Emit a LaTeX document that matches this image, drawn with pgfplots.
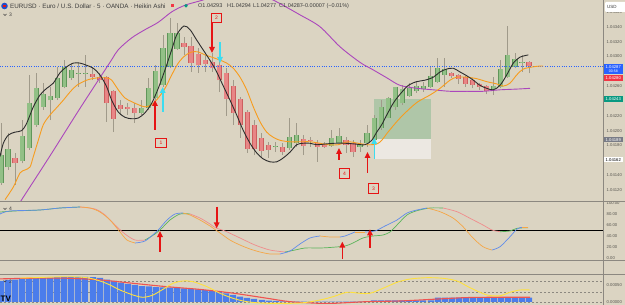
\documentclass[border=0pt]{standalone}
\usepackage{fontspec}
\setmainfont{Liberation Sans}
\usepackage{pgfplots}
\usepackage{pgfplotstable}
\pgfplotsset{compat=1.18}
\usetikzlibrary{arrows.meta}

\definecolor{bg}{RGB}{219,212,194}
\definecolor{sep}{RGB}{140,136,128}
\definecolor{tickc}{RGB}{90,88,82}
\definecolor{gfill}{RGB}{146,192,134}
\definecolor{gedge}{RGB}{96,150,90}
\definecolor{rfill}{RGB}{232,134,134}
\definecolor{redge}{RGB}{205,95,95}
\definecolor{wick}{RGB}{160,154,138}
\definecolor{maBlack}{RGB}{45,45,45}
\definecolor{maOrange}{RGB}{247,156,30}
\definecolor{maPurple}{RGB}{171,71,188}
\definecolor{dotBlue}{RGB}{41,98,255}
\definecolor{oscBlue}{RGB}{95,140,235}
\definecolor{oscOrange}{RGB}{245,166,70}
\definecolor{oscGreen}{RGB}{90,180,90}
\definecolor{oscPink}{RGB}{240,140,140}
\definecolor{histBlue}{RGB}{75,125,235}
\definecolor{histRed}{RGB}{239,83,80}
\definecolor{histYellow}{RGB}{255,225,60}
\definecolor{arrRed}{RGB}{230,20,20}
\definecolor{arrCyan}{RGB}{60,220,240}
\definecolor{posGreen}{RGB}{175,198,168}
\definecolor{posWhite}{RGB}{236,232,226}
\definecolor{lblBlue}{RGB}{41,98,255}
\definecolor{lblRed}{RGB}{242,54,69}
\definecolor{lblGreen}{RGB}{8,153,129}
\definecolor{lblGray}{RGB}{120,123,134}
\definecolor{txt}{RGB}{60,60,60}

\newcommand{\tickfont}{\fontsize{4.2}{5}\selectfont}

\pgfplotstableread{
i o h l c
0 1.04129 1.04210 1.04127 1.04167
1 1.04151 1.04197 1.04147 1.04175
2 1.04163 1.04170 1.04127 1.04156
3 1.04159 1.04214 1.04156 1.04193
4 1.04177 1.04275 1.04174 1.04237
5 1.04208 1.04278 1.04205 1.04257
6 1.04232 1.04264 1.04228 1.04249
7 1.04241 1.04259 1.04214 1.04247
8 1.04244 1.04286 1.04241 1.04271
9 1.04259 1.04295 1.04257 1.04286
10 1.04271 1.04291 1.04268 1.04282
11 1.04277 1.04292 1.04259 1.04278
12 1.04277 1.04302 1.04259 1.04278
13 1.04276 1.04286 1.04268 1.04272
14 1.04272 1.04278 1.04264 1.04268
15 1.04272 1.04274 1.04212 1.04237
16 1.04253 1.04255 1.04198 1.04216
17 1.04235 1.04241 1.04221 1.04229
18 1.04232 1.04237 1.04221 1.04229
19 1.04231 1.04237 1.04210 1.04224
20 1.04224 1.04241 1.04221 1.04231
21 1.04231 1.04271 1.04228 1.04257
22 1.04244 1.04288 1.04241 1.04280
23 1.04262 1.04329 1.04259 1.04311
24 1.04286 1.04352 1.04284 1.04332
25 1.04310 1.04345 1.04309 1.04332
26 1.04318 1.04326 1.04302 1.04313
27 1.04314 1.04326 1.04279 1.04291
28 1.04303 1.04311 1.04278 1.04288
29 1.04295 1.04302 1.04279 1.04290
30 1.04292 1.04305 1.04279 1.04284
31 1.04288 1.04295 1.04252 1.04268
32 1.04278 1.04284 1.04220 1.04243
33 1.04260 1.04268 1.04208 1.04224
34 1.04243 1.04245 1.04190 1.04208
35 1.04225 1.04228 1.04170 1.04175
36 1.04208 1.04214 1.04167 1.04175
37 1.04190 1.04197 1.04163 1.04173
38 1.04181 1.04185 1.04163 1.04174
39 1.04178 1.04185 1.04171 1.04179
40 1.04178 1.04183 1.04167 1.04171
41 1.04177 1.04217 1.04174 1.04191
42 1.04183 1.04210 1.04178 1.04194
43 1.04189 1.04194 1.04167 1.04179
44 1.04188 1.04191 1.04178 1.04187
45 1.04183 1.04187 1.04158 1.04178
46 1.04182 1.04185 1.04177 1.04178
47 1.04179 1.04201 1.04178 1.04190
48 1.04183 1.04204 1.04183 1.04193
49 1.04187 1.04191 1.04170 1.04181
50 1.04183 1.04187 1.04165 1.04171
51 1.04178 1.04187 1.04171 1.04182
52 1.04183 1.04208 1.04178 1.04197
53 1.04187 1.04221 1.04185 1.04217
54 1.04204 1.04241 1.04201 1.04232
55 1.04217 1.04245 1.04217 1.04244
56 1.04232 1.04259 1.04228 1.04259
57 1.04237 1.04262 1.04235 1.04256
58 1.04247 1.04264 1.04245 1.04257
59 1.04253 1.04266 1.04251 1.04260
60 1.04256 1.04266 1.04252 1.04260
61 1.04259 1.04286 1.04257 1.04274
62 1.04266 1.04298 1.04264 1.04284
63 1.04275 1.04298 1.04259 1.04283
64 1.04278 1.04279 1.04271 1.04274
65 1.04275 1.04276 1.04263 1.04270
66 1.04272 1.04274 1.04259 1.04263
67 1.04268 1.04271 1.04257 1.04262
68 1.04263 1.04264 1.04255 1.04259
69 1.04260 1.04262 1.04249 1.04253
70 1.04256 1.04272 1.04248 1.04260
71 1.04259 1.04295 1.04257 1.04283
72 1.04272 1.04341 1.04271 1.04302
73 1.04286 1.04305 1.04284 1.04297
74 1.04291 1.04302 1.04279 1.04292
75 1.04293 1.04294 1.04277 1.04287
}\candles

\pgfplotstableread{
x v
1 0.00062
8 0.00065
15 0.00066
22 0.00068
29 0.00069
36 0.00071
43 0.00071
50 0.00072
57 0.00073
64 0.00074
71 0.00074
78 0.00074
85 0.00074
93 0.00073
100 0.00071
107 0.00066
114 0.00062
121 0.00057
128 0.00053
135 0.00050
142 0.00047
149 0.00046
156 0.00044
163 0.00043
170 0.00042
177 0.00041
184 0.00040
191 0.00038
198 0.00037
205 0.00035
212 0.00032
219 0.00029
226 0.00025
233 0.00021
240 0.00016
247 0.00012
254 0.00009
262 0.00006
269 0.00004
276 0.00003
283 0.00002
290 0.00001
297 0.00001
304 0.00001
311 0.00001
318 0.00001
325 0.00001
332 0.00001
339 0.00001
346 0.00001
353 0.00001
360 0.00001
367 0.00001
374 0.000045
381 0.000045
388 0.000045
395 0.000045
402 0.000045
409 0.000045
416 0.000045
423 0.000045
431 0.000045
438 0.00013
445 0.00013
452 0.00013
459 0.00013
466 0.00013
473 0.00013
480 0.00013
487 0.00013
494 0.00013
501 0.00013
508 0.00013
515 0.00013
522 0.00013
529 0.00013
}\hist

\begin{document}
\begin{tikzpicture}[x=1pt,y=1pt]
\fill[bg] (0,0) rectangle (625,-305);
\useasboundingbox (0,0) rectangle (625,-305);

% ================= MAIN PRICE PANEL =================
\begin{axis}[at={(0pt,0pt)}, anchor=north west, scale only axis,
  width=603pt, height=201pt,
  xmin=-0.142, xmax=85.51, ymin=1.041052, ymax=1.04376,
  axis line style={draw=none}, xtick=\empty,
  ytick={1.0412,1.0414,1.0418,1.0420,1.0422,1.0426,1.0430,1.0432,1.0434,1.0436},
  yticklabels={1.04120,1.04140,1.04180,1.04200,1.04220,1.04260,1.04300,1.04320,1.04340,1.04360},
  yticklabel pos=right, major tick length=0pt, scaled y ticks=false,
  yticklabel style={font=\tickfont, text=tickc, anchor=west, xshift=3.5pt, inner sep=0pt},
  clip=true,
  candle/.style={forget plot, draw=none, no markers}]
  % position tool
  \fill[posGreen] (axis cs:53.03,1.04243) rectangle (axis cs:61.08,1.04189);
  \fill[posWhite] (axis cs:53.03,1.04189) rectangle (axis cs:61.08,1.04162);
  % wicks
  \addplot[candle,
    error bars/.cd, y dir=plus, y explicit, error mark=none,
    error bar style={draw=wick, line width=0.8pt}]
    table[x=i, y=l, y error expr=\thisrow{h}-\thisrow{l}] {\candles};
  % green bodies
  \addplot[candle,
    restrict expr to domain={\thisrow{c}-\thisrow{o}}{0:1},
    error bars/.cd, y dir=plus, y explicit, error mark=none,
    error bar style={draw=gedge, line width=5.2pt}]
    table[x=i, y=o, y error expr=\thisrow{c}-\thisrow{o}] {\candles};
  \addplot[candle,
    restrict expr to domain={\thisrow{c}-\thisrow{o}}{0:1},
    error bars/.cd, y dir=plus, y explicit, error mark=none,
    error bar style={draw=gfill, line width=3.6pt}]
    table[x=i, y=o, y error expr=\thisrow{c}-\thisrow{o}] {\candles};
  % red bodies
  \addplot[candle,
    restrict expr to domain={\thisrow{c}-\thisrow{o}}{-1:-0.000001},
    error bars/.cd, y dir=plus, y explicit, error mark=none,
    error bar style={draw=redge, line width=5.2pt}]
    table[x=i, y=c, y error expr=\thisrow{o}-\thisrow{c}] {\candles};
  \addplot[candle,
    restrict expr to domain={\thisrow{c}-\thisrow{o}}{-1:-0.000001},
    error bars/.cd, y dir=plus, y explicit, error mark=none,
    error bar style={draw=rfill, line width=3.6pt}]
    table[x=i, y=c, y error expr=\thisrow{o}-\thisrow{c}] {\candles};
  % current price dotted line
  \addplot[forget plot, dotBlue, line width=0.6pt, dash pattern=on 0.8pt off 1.6pt]
    coordinates {(-0.142,1.04287) (85.51,1.04287)};
  % purple slow MA
  \addplot[forget plot, maPurple, line width=0.9pt, smooth] coordinates {
   (2.0,1.04093) (2.94,1.04107) (6.96,1.04166) (11.22,1.04230) (15.48,1.04292)
   (16.66,1.04309) (18.57,1.04325) (20.45,1.04336) (22.34,1.04346) (24.25,1.04360)
   (26.14,1.04369) (28.69,1.04376) (31.11,1.04384) (33.95,1.04388) (36.08,1.04385)
   (38.64,1.04376) (42.47,1.04356) (45.31,1.04340) (48.15,1.04313) (50.99,1.04292)
   (52.84,1.04282) (54.83,1.04271) (56.68,1.04261) (59.09,1.04257) (61.37,1.04255)
   (63.78,1.04253) (66.19,1.04253) (68.47,1.04253) (70.88,1.04255) (73.30,1.04256)
   (75.14,1.04257)};
  % orange MA
  \addplot[forget plot, maOrange, line width=0.9pt, smooth] coordinates {
   (0.57,1.04107) (1.75,1.04124) (2.70,1.04143) (3.41,1.04147) (4.12,1.04151)
   (4.59,1.04165) (5.30,1.04187) (6.01,1.04208) (6.96,1.04221) (7.91,1.04231)
   (8.85,1.04241) (9.80,1.04252) (10.75,1.04261) (12.17,1.04268) (13.59,1.04271)
   (15.01,1.04271) (15.72,1.04268) (16.66,1.04255) (17.61,1.04244) (18.57,1.04239)
   (19.50,1.04235) (20.45,1.04232) (21.41,1.04235) (22.34,1.04244) (23.30,1.04257)
   (24.25,1.04275) (25.18,1.04291) (26.14,1.04301) (27.09,1.04306) (28.03,1.04306)
   (28.98,1.04302) (29.93,1.04299) (31.11,1.04295) (32.06,1.04291) (33.00,1.04284)
   (33.95,1.04272) (34.90,1.04255) (35.84,1.04232) (36.79,1.04212) (37.74,1.04198)
   (38.68,1.04191) (39.63,1.04187) (41.05,1.04185) (42.47,1.04185) (43.89,1.04185)
   (45.31,1.04183) (46.45,1.04181) (47.87,1.04181) (49.29,1.04185) (50.71,1.04183)
   (52.13,1.04181) (53.37,1.04182) (54.08,1.04187) (54.97,1.04198) (56.39,1.04214)
   (57.86,1.04228) (59.23,1.04239) (60.94,1.04248) (62.36,1.04257) (63.78,1.04268)
   (64.73,1.04272) (66.15,1.04272) (67.57,1.04270) (68.99,1.04266) (70.41,1.04263)
   (71.35,1.04260) (72.30,1.04264) (73.25,1.04275) (74.19,1.04283) (75.61,1.04286)
   (76.56,1.04287) (76.99,1.04287)};
  % black fast MA
  \addplot[forget plot, maBlack, line width=0.9pt, smooth] coordinates {
   (-0.14,1.04165) (0.33,1.04183) (1.04,1.04194) (1.99,1.04198) (2.94,1.04200)
   (3.65,1.04210) (4.59,1.04232) (5.54,1.04248) (6.49,1.04257) (7.43,1.04264)
   (8.38,1.04278) (9.33,1.04286) (10.27,1.04291) (11.22,1.04291) (12.17,1.04288)
   (13.11,1.04284) (14.06,1.04275) (15.01,1.04259) (15.72,1.04241) (16.66,1.04225)
   (17.61,1.04218) (18.57,1.04216) (19.50,1.04217) (20.45,1.04224) (21.41,1.04237)
   (22.34,1.04257) (23.30,1.04282) (24.25,1.04309) (24.96,1.04329) (25.99,1.04341)
   (26.85,1.04336) (27.80,1.04322) (28.98,1.04305) (29.93,1.04291) (30.64,1.04279)
   (31.53,1.04261) (32.53,1.04241) (33.48,1.04221) (34.38,1.04201) (35.37,1.04183)
   (36.32,1.04170) (37.22,1.04162) (38.21,1.04158) (39.16,1.04158) (40.06,1.04163)
   (41.05,1.04171) (42.00,1.04181) (42.90,1.04183) (43.89,1.04183) (44.84,1.04181)
   (46.02,1.04182) (47.44,1.04183) (48.86,1.04183) (50.28,1.04182) (51.70,1.04181)
   (52.66,1.04187) (53.37,1.04198) (54.08,1.04208) (54.79,1.04221) (55.72,1.04237)
   (56.68,1.04249) (57.86,1.04261) (59.05,1.04266) (60.23,1.04268) (61.41,1.04272)
   (62.36,1.04279) (63.31,1.04283) (64.25,1.04284) (65.20,1.04279) (66.15,1.04274)
   (67.09,1.04268) (68.04,1.04261) (68.99,1.04257) (69.93,1.04255) (70.88,1.04261)
   (71.83,1.04275) (72.77,1.04291) (73.72,1.04299) (74.90,1.04302)};
\end{axis}

% ================= OSCILLATOR PANEL =================
\begin{axis}[at={(0pt,-201pt)}, anchor=north west, scale only axis,
  width=603pt, height=59pt,
  xmin=0, xmax=603, ymin=-3.64, ymax=103.64,
  axis line style={draw=none}, xtick=\empty,
  ytick={0,20,40,60,80,100},
  yticklabels={0.00,20.00,40.00,60.00,80.00,100.00},
  yticklabel pos=right, major tick length=0pt, scaled y ticks=false,
  yticklabel style={font=\tickfont, text=tickc, anchor=west, xshift=3.5pt, inner sep=0pt},
  clip=true]
  \addplot[forget plot, black, line width=1.1pt] coordinates {(0,50) (603,50)};
  % D line
  \addplot[forget plot, oscGreen, line width=0.7pt, smooth] coordinates {(0,83.6) (15,85.5) (40,87.3) (60,90.9) (80,92.7)};
  \addplot[forget plot, oscPink, line width=0.7pt, smooth] coordinates {(80,92.7) (95,89.1) (105,78.2) (115,60.0) (125,43.6) (135,32.7) (145,32.7)};
  \addplot[forget plot, oscGreen, line width=0.7pt, smooth] coordinates {(145,32.7) (155,43.6) (162,54.5) (170,69.1) (180,80.0) (190,80.0)};
  \addplot[forget plot, oscPink, line width=0.7pt, smooth] coordinates {(190,80.0) (200,72.7) (210,61.8) (216,54.5) (225,49.1) (240,36.4) (255,23.6) (270,14.5) (285,10.9)};
  \addplot[forget plot, oscGreen, line width=0.7pt, smooth] coordinates {(285,10.9) (295,14.5) (305,18.2) (320,18.2) (330,19.1) (345,21.8) (353,27.3) (363,36.4) (373,40.0) (383,41.8) (390,47.3) (397,60.0) (407,78.2) (417,86.0) (430,90.9) (443,90.9)};
  \addplot[forget plot, oscPink, line width=0.7pt, smooth] coordinates {(443,90.9) (457,84.2) (470,72.2) (483,60.0) (492,50.9) (500,47.8)};
  \addplot[forget plot, oscGreen, line width=0.7pt, smooth] coordinates {(500,47.8) (510,49.1) (517,54.0) (528,55.1)};
  % K line
  \addplot[forget plot, oscBlue, line width=0.7pt, smooth] coordinates {(0,80.0) (10,85.5) (40,87.3) (60,90.9) (80,92.7)};
  \addplot[forget plot, oscOrange, line width=0.7pt, smooth] coordinates {(80,92.7) (90,90.9) (100,83.6) (110,69.1) (120,47.3) (127,32.7) (135,27.3)};
  \addplot[forget plot, oscBlue, line width=0.7pt, smooth] coordinates {(135,27.3) (145,30.9) (155,45.5) (160,54.5) (167,69.1) (175,80.0) (183,81.8)};
  \addplot[forget plot, oscOrange, line width=0.7pt, smooth] coordinates {(183,81.8) (190,78.2) (200,69.1) (210,58.2) (220,45.5) (230,32.7) (240,23.6) (250,16.4) (260,10.9) (270,7.3) (280,7.3)};
  \addplot[forget plot, oscBlue, line width=0.7pt, smooth] coordinates {(280,7.3) (290,12.7) (300,25.5) (310,36.4) (320,40.0)};
  \addplot[forget plot, oscOrange, line width=0.7pt, smooth] coordinates {(320,40.0) (330,38.2) (340,38.2)};
  \addplot[forget plot, oscBlue, line width=0.7pt, smooth] coordinates {(340,38.2) (345,40.0) (355,47.3)};
  \addplot[forget plot, oscOrange, line width=0.7pt, smooth] coordinates {(355,47.3) (365,47.3)};
  \addplot[forget plot, oscBlue, line width=0.7pt, smooth] coordinates {(365,47.3) (375,49.1) (385,58.2) (397,69.1) (407,81.8) (417,87.3) (427,90.9)};
  \addplot[forget plot, oscOrange, line width=0.7pt, smooth] coordinates {(427,90.9) (440,84.2) (453,72.7) (463,56.9) (473,36.4) (483,20.5) (492,14.5)};
  \addplot[forget plot, oscBlue, line width=0.7pt, smooth] coordinates {(492,14.5) (500,20.5) (510,38.7) (517,52.7) (522,55.8)};
  \addplot[forget plot, oscOrange, line width=0.7pt, smooth] coordinates {(522,55.8) (528,55.8)};
\end{axis}

% ================= HISTOGRAM PANEL =================
\begin{axis}[at={(0pt,-274pt)}, anchor=north west, scale only axis,
  width=603pt, height=31pt,
  xmin=0, xmax=603, ymin=-0.0000882, ymax=0.0008235,
  axis line style={draw=none}, xtick=\empty,
  ytick={0,0.0005}, yticklabels={0.00000,0.00050},
  yticklabel pos=right, major tick length=0pt, scaled y ticks=false,
  yticklabel style={font=\tickfont, text=tickc, anchor=west, xshift=3.5pt, inner sep=0pt},
  clip=true]
  \addplot[forget plot, sep, line width=0.4pt, dash pattern=on 2pt off 2pt] coordinates {(0,0.0006) (603,0.0006)};
  \addplot[forget plot, sep, line width=0.4pt, dash pattern=on 2pt off 2pt] coordinates {(0,0.0003) (603,0.0003)};
  \addplot[forget plot, sep, line width=0.4pt, dash pattern=on 2pt off 2pt] coordinates {(0,0) (603,0)};
  \addplot[forget plot, ybar, bar width=6.3pt, bar shift=0pt, fill=histBlue, draw=none] table[x=x, y=v] {\hist};
  \addplot[forget plot, histRed, line width=1.1pt, smooth] coordinates {
   (0,0.00068) (33,0.0007) (67,0.0007) (100,0.00065) (133,0.00055) (167,0.00045)
   (200,0.00037) (233,0.00026) (267,0.00011) (290,0.00001) (320,-0.00004) (333,-0.00004)
   (367,0.00001) (400,0.00003) (433,0.00008) (467,0.00013) (500,0.00014) (530,0.00014)};
  \addplot[forget plot, histYellow, line width=0.9pt, smooth] coordinates {
   (20,0.000706) (33,0.000715) (67,0.000744) (87,0.000715) (100,0.000618) (110,0.0005)
   (120,0.000353) (133,0.000206) (143,0.000138) (153,0.000206) (163,0.000374) (173,0.00055)
   (183,0.000618) (193,0.000597) (207,0.00045) (220,0.000256) (233,0.000109) (247,0.0000088)
   (267,-0.000038) (300,-0.00003) (320,0.0000588) (333,0.000156) (347,0.000285) (360,0.000256)
   (370,0.000256) (383,0.000403) (397,0.000579) (410,0.000676) (427,0.000715) (443,0.000697)
   (457,0.000618) (470,0.000421) (487,0.000206) (500,0.000185) (510,0.000285) (520,0.000353)
   (530,0.000353)};
\end{axis}

% ================= frame lines =================
\draw[sep, line width=0.6pt] (0,-201) -- (625,-201);
\draw[sep, line width=0.6pt] (0,-260) -- (625,-260);
\draw[sep, line width=0.6pt] (0,-274) -- (625,-274);
\draw[sep, line width=0.6pt] (603,0) -- (603,-305);

% ================= annotations: arrows =================
\tikzset{arr/.style={line width=1.6pt, -{Triangle[width=5.5pt,length=6pt]}}}
\draw[arr, arrRed] (155,-130) -- (155,-100);
\draw[arr, arrCyan] (162.7,-112) -- (162.7,-87);
\draw[arr, arrRed] (212,-23) -- (212,-53);
\draw[arr, arrCyan] (220,-42) -- (220,-63);
\draw[arr, arrRed] (339,-160) -- (339,-148);
\draw[arr, arrRed] (367.5,-173) -- (367.5,-152);
\draw[arr, arrCyan] (374.3,-159) -- (374.3,-138);
% oscillator arrows
\draw[arr, arrRed] (160,-251.7) -- (160,-231);
\draw[arr, arrRed] (216.7,-206.7) -- (216.7,-228.3);
\draw[arr, arrRed] (342.3,-259) -- (342.3,-241.7);
\draw[arr, arrRed] (370,-247.7) -- (370,-229.3);

% numbered boxes
\tikzset{nbox/.style={draw=arrRed, line width=0.6pt, fill=bg, text=arrRed,
  font=\fontsize{5}{5}\selectfont, minimum width=10.5pt, minimum height=9.5pt, inner sep=0pt}}
\node[nbox] at (161,-143) {1};
\node[nbox] at (216.5,-18) {2};
\node[nbox] at (344.5,-173.5) {4};
\node[nbox] at (373.5,-188.5) {3};

% ================= header =================
\fill[lblBlue!80!black] (4.5,-6) circle (3.3);
\fill[arrRed] (4.5,-6) ++(-1.2,-1.2) rectangle ++(2.4,2.4);
\node[anchor=west, inner sep=0pt, text=txt, font=\fontsize{6.3}{7}\selectfont] at (10,-6)
  {EURUSD · Euro / U.S. Dollar · 5 · OANDA · Heikin Ashi};
\fill[lblRed] (170.5,-7.5) rectangle (174,-4);
\fill[lblGreen] (186,-5.8) circle (1.8);
\tikzset{ohlc/.style={anchor=west, inner sep=0pt, text=txt, font=\fontsize{5.5}{6}\selectfont}}
\node[ohlc] at (198,-6) {O1.04293};
\node[ohlc] at (227,-6) {H1.04294};
\node[ohlc] at (253,-6) {L1.04277};
\node[ohlc] at (279,-6) {C1.04287};
\node[ohlc] at (301.7,-6) {−0.00007 (−0.01\%)};

% pane chevrons
\draw[txt, line width=0.5pt] (3.5,-14) -- (5,-15.6) -- (6.5,-14);
\node[anchor=west, inner sep=0pt, text=txt, font=\fontsize{5}{6}\selectfont] at (9,-15) {3};
\draw[txt, line width=0.5pt] (3.5,-208) -- (5,-209.6) -- (6.5,-208);
\node[anchor=west, inner sep=0pt, text=txt, font=\fontsize{5}{6}\selectfont] at (9,-209) {4};
\draw[txt, line width=0.5pt] (3.5,-280.5) -- (5,-282.1) -- (6.5,-280.5);
\node[anchor=west, inner sep=0pt, text=txt, font=\fontsize{5}{6}\selectfont] at (9,-281.5) {2};
\node[anchor=west, inner sep=0pt, text=black, font=\bfseries\fontsize{8}{8}\selectfont] at (0.5,-299) {TV};

% ================= right-side labels =================
\fill[white, rounded corners=1pt] (605,-2) rectangle (627,-12);
\node[anchor=west, inner sep=0pt, text=txt, font=\fontsize{4.5}{5}\selectfont] at (607,-7) {USD};
\fill[lblBlue] (604,-64) rectangle (622.5,-74.5);
\node[inner sep=0pt, text=white, font=\tickfont] at (613.3,-66.8) {1.04287};
\node[inner sep=0pt, text=white, font=\fontsize{3.6}{4}\selectfont] at (613.3,-71.6) {00:58};
\fill[lblRed] (604,-75) rectangle (622.5,-81);
\node[inner sep=0pt, text=white, font=\tickfont] at (613.3,-78) {1.04280};
\fill[lblGreen] (604,-96) rectangle (622.5,-102);
\node[inner sep=0pt, text=white, font=\tickfont] at (613.3,-99) {1.04243};
\fill[lblGray] (604,-136.7) rectangle (622.5,-142.5);
\node[inner sep=0pt, text=white, font=\tickfont] at (613.3,-139.6) {1.04189};
\fill[white] (604,-156.7) rectangle (622.5,-162.5);
\node[inner sep=0pt, text=black, font=\tickfont] at (613.3,-159.6) {1.04162};
\end{tikzpicture}
\end{document}
